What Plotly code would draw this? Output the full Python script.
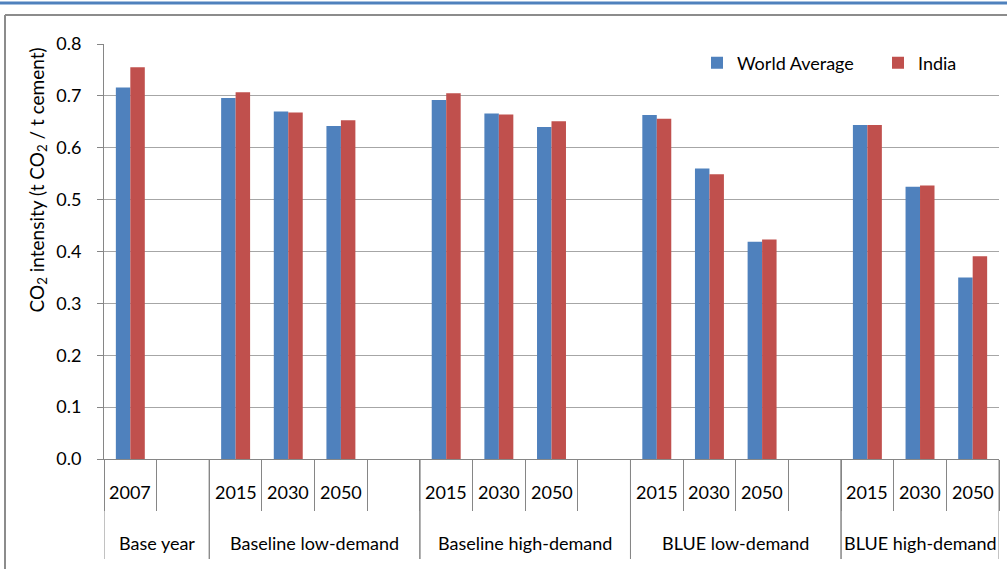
import plotly.graph_objects as go

groups = ["Base year", "Base year",
          "Baseline low-demand", "Baseline low-demand", "Baseline low-demand", "Baseline low-demand",
          "Baseline high-demand", "Baseline high-demand", "Baseline high-demand", "Baseline high-demand",
          "BLUE low-demand", "BLUE low-demand", "BLUE low-demand", "BLUE low-demand",
          "BLUE high-demand", "BLUE high-demand", "BLUE high-demand"]
years = ["2007", "",
         "2015", "2030", "2050", "",
         "2015", "2030", "2050", "",
         "2015", "2030", "2050", "",
         "2015", "2030", "2050"]
world = [0.716, None, 0.696, 0.670, 0.642, None, 0.692, 0.666, 0.640, None,
         0.663, 0.560, 0.419, None, 0.644, 0.525, 0.350]
india = [0.755, None, 0.707, 0.668, 0.653, None, 0.705, 0.664, 0.651, None,
         0.656, 0.549, 0.423, None, 0.644, 0.527, 0.391]

FONT = "Lato, 'Open Sans', sans-serif"
GRAY = "#868686"

L, R, T, B = 104, 8, 44, 110
W, H = 1007, 569
pw, ph = W - L - R, H - T - B

def px(x):
    return (x - L) / pw

def py(y):
    return (H - B - y) / ph

keys = [f"{g}|{i}" for i, g in enumerate(groups)]

fig = go.Figure()
fig.add_trace(go.Bar(x=keys, y=world, name="World Average",
                     marker=dict(color="#4f81bd", line=dict(width=0)), legend="legend"))
fig.add_trace(go.Bar(x=keys, y=india, name="India",
                     marker=dict(color="#c0504d", line=dict(width=0)), legend="legend2"))

annotations = []
# inner (year) labels
for i, yr in enumerate(years):
    if yr:
        annotations.append(dict(x=i, xref="x", y=py(492), yref="paper", text=yr,
                                showarrow=False, xanchor="center", yanchor="middle",
                                font=dict(size=18)))
# group labels and group dividers
shapes = []
spans = []
start = 0
for i in range(1, len(groups) + 1):
    if i == len(groups) or groups[i] != groups[start]:
        spans.append((groups[start], start, i - 1))
        start = i
for name, a, b in spans:
    annotations.append(dict(x=(a + b) / 2, xref="x", y=py(543), yref="paper", text=name,
                            showarrow=False, xanchor="center", yanchor="middle",
                            font=dict(size=18)))
    for edge in (a - 0.5, b + 0.5):
        shapes.append(dict(type="line", xref="x", yref="paper", x0=edge, x1=edge,
                           y0=0, y1=py(559), line=dict(color=GRAY, width=1)))

# y-axis title
annotations.append(dict(x=px(37), xref="paper", y=py(46), yref="paper",
                        text="CO<sub>2</sub> intensity (t CO<sub>2</sub> / t cement)",
                        textangle=-90, showarrow=False, xanchor="center", yanchor="top",
                        font=dict(size=19)))

shapes += [
    dict(type="line", xref="paper", yref="paper", x0=px(0), x1=px(W), y0=py(3), y1=py(3),
         line=dict(color="#4f81bd", width=3)),
    dict(type="line", xref="paper", yref="paper", x0=px(5), x1=px(W), y0=py(15), y1=py(15),
         line=dict(color="#8c8c8c", width=2)),
    dict(type="line", xref="paper", yref="paper", x0=px(5), x1=px(5), y0=py(15), y1=py(H),
         line=dict(color="#8c8c8c", width=2)),
]

leg_common = dict(orientation="h", yanchor="middle", xanchor="left",
                  font=dict(size=18), bgcolor="rgba(0,0,0,0)", borderwidth=0)

fig.update_layout(
    width=W, height=H,
    margin=dict(l=L, r=R, t=T, b=B, autoexpand=False),
    paper_bgcolor="white", plot_bgcolor="white",
    barmode="group", bargap=0.45, bargroupgap=0,
    font=dict(family=FONT, size=18, color="#000000"),
    showlegend=True,
    legend=dict(x=px(697), y=py(63), **leg_common),
    legend2=dict(x=px(878), y=py(63), **leg_common),
    xaxis=dict(type="category", showgrid=False, showline=True,
               linecolor=GRAY, linewidth=1, showticklabels=False,
               ticks="outside", tickson="boundaries", ticklen=51, tickcolor=GRAY,
               range=[-0.5, len(keys) - 0.5]),
    yaxis=dict(range=[0, 0.8], dtick=0.1, tickformat=".1f",
               showgrid=True, gridcolor="#a6a6a6", gridwidth=1,
               showline=True, linecolor=GRAY, linewidth=1,
               ticks="outside", ticklen=6, tickcolor=GRAY, ticklabelstandoff=12,
               tickfont=dict(size=18), zeroline=False),
    annotations=annotations,
    shapes=shapes,
)

fig.write_html("out.html", config={"displayModeBar": False},
               post_script="document.body.style.margin='0';")
